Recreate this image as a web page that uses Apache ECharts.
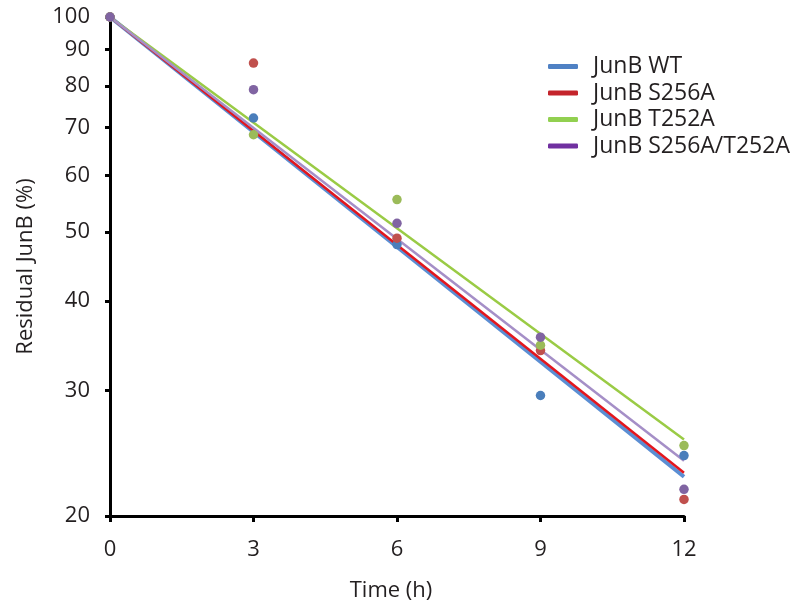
<!DOCTYPE html>
<html>
<head>
<meta charset="utf-8">
<script src="https://cdn.jsdelivr.net/npm/echarts@6/dist/echarts.min.js"></script>
<style>html,body{margin:0;padding:0;background:#fff}#c{width:797px;height:607px}</style>
</head>
<body>
<div id="c"></div>
<script>
var times = [0, 3, 6, 9, 12];
var seriesNames = ['JunB WT', 'JunB S256A', 'JunB T252A', 'JunB S256A/T252A'];
var wtPoints = [100, 72.2, 48.0, 29.5, 24.3];
var s256aPoints = [100, 86.2, 49.0, 34.1, 21.1];
var t252aPoints = [100, 68.4, 55.5, 34.7, 25.1];
var dblPoints = [100, 79.1, 51.4, 35.6, 21.8];
var fitTimes = [0, 12];
var wtFit = [100, 22.7];
var s256aFit = [100, 23.0];
var t252aFit = [100, 25.6];
var dblFit = [100, 23.9];
var yTicks = [20, 30, 40, 50, 60, 70, 80, 90, 100];

var lineColors = ['#5b8ed3', '#e3161d', '#9acb45', '#a58fc7'];
var legendColors = ['#4f81c4', '#c4242b', '#92d050', '#7030a0'];
var dotColors = ['#4a7ebb', '#c0504d', '#9bbb59', '#8064a2'];
var lineWidths = [4, 2.5, 2.5, 2.5];

function pairs(xs, ys) { return xs.map(function (x, i) { return [x, ys[i]]; }); }

var pointSets = [wtPoints, s256aPoints, t252aPoints, dblPoints];
var fitSets = [wtFit, s256aFit, t252aFit, dblFit];
var series = [];
fitSets.forEach(function (f, i) {
  series.push({
    name: seriesNames[i], type: 'line', data: pairs(fitTimes, f),
    showSymbol: false, symbol: 'none', z: 2,
    lineStyle: { color: lineColors[i], width: lineWidths[i] },
    itemStyle: { color: legendColors[i] }
  });
});
pointSets.forEach(function (p, i) {
  series.push({
    name: seriesNames[i] + ' data', type: 'scatter', data: pairs(times, p),
    symbolSize: 9.5, z: 5, itemStyle: { color: dotColors[i], opacity: 1 }
  });
});

var font = 'Open Sans';
var chart = echarts.init(document.getElementById('c'));
chart.setOption({
  animation: false,
  textStyle: { fontFamily: font },
  grid: { left: 110, right: 113, top: 17, bottom: 89, containLabel: false },
  legend: {
    left: 548, top: 55, orient: 'vertical', itemWidth: 30, itemHeight: 5, itemGap: 3.5,
    padding: 0,
    icon: 'roundRect',
    data: seriesNames.map(function (n, i) { return { name: n, itemStyle: { color: legendColors[i] } }; }),
    textStyle: { fontSize: 23, color: '#231f20', fontFamily: font, padding: [0, 0, 0, 10] }
  },
  xAxis: {
    type: 'value', min: 0, max: 12, interval: 3,
    name: 'Time (h)', nameLocation: 'middle', nameGap: 64,
    nameTextStyle: { fontSize: 22, color: '#231f20', padding: [0, 12, 0, 0] },
    axisLine: { show: true, lineStyle: { color: '#000', width: 3 } },
    axisTick: { show: true, length: 6, lineStyle: { color: '#000', width: 3 } },
    axisLabel: { fontSize: 22, color: '#231f20', margin: 23 },
    splitLine: { show: false }
  },
  yAxis: {
    type: 'log', logBase: 10, min: 20, max: 100,
    name: 'Residual JunB (%)', nameLocation: 'middle', nameGap: 73,
    nameTextStyle: { fontSize: 22, color: '#231f20' },
    axisLine: { show: true, onZero: false, lineStyle: { color: '#000', width: 3 } },
    axisTick: { show: true, length: 5, customValues: yTicks, lineStyle: { color: '#000', width: 3 } },
    axisLabel: { fontSize: 22, color: '#231f20', margin: 20, customValues: yTicks },
    splitLine: { show: false }
  },
  series: series
});
</script>
</body>
</html>
